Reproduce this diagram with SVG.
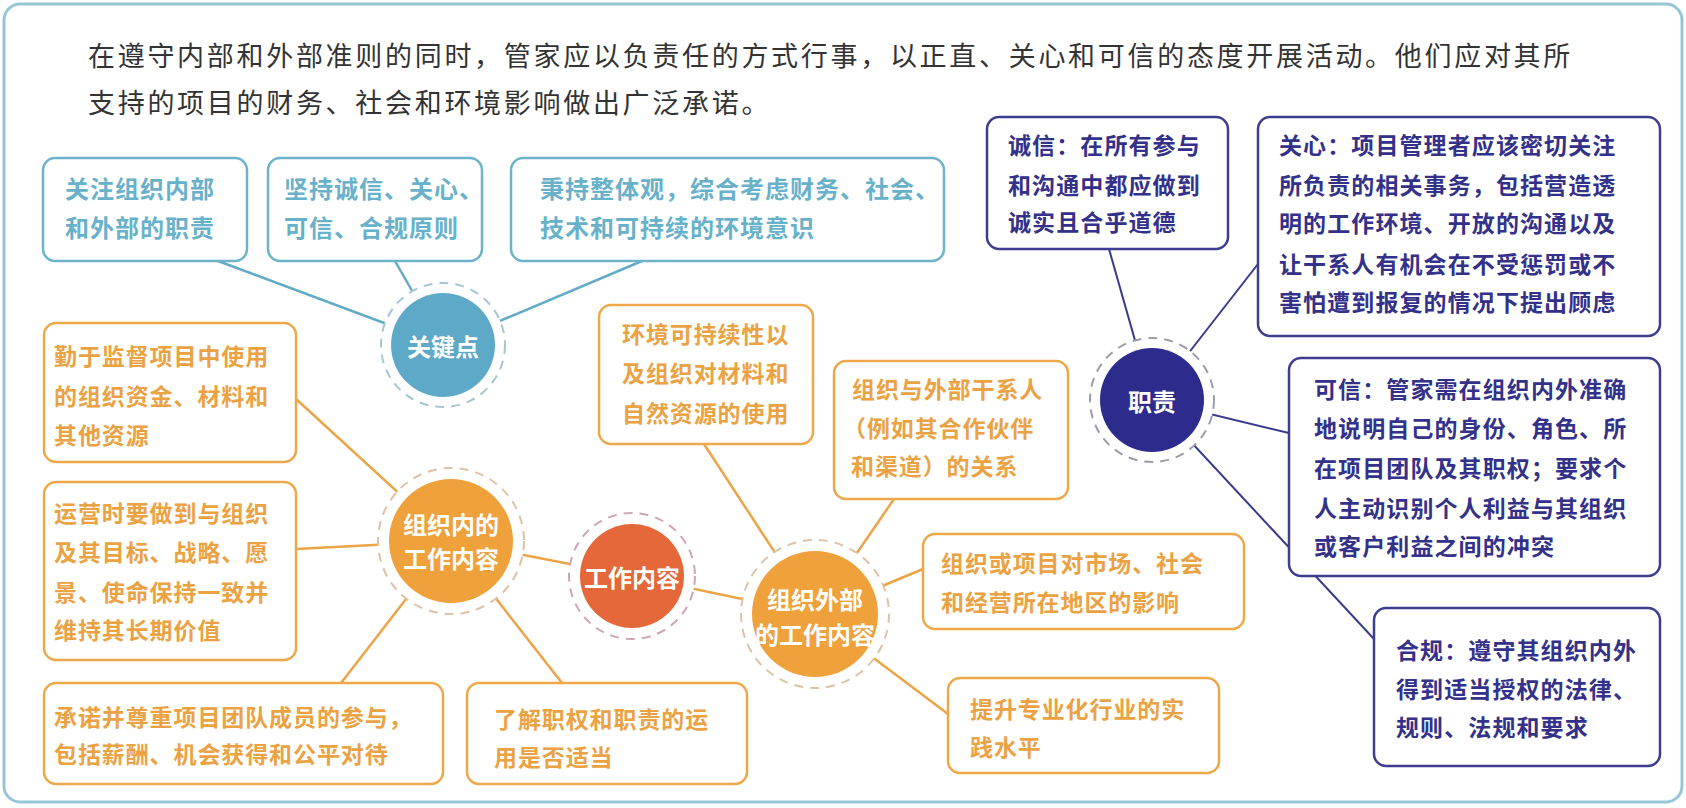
<svg xmlns="http://www.w3.org/2000/svg" width="1686" height="808" viewBox="0 0 1686 808">
<style>
text{font-family:"Noto Sans CJK SC","Noto Sans",sans-serif;dominant-baseline:central}
.title{font-size:27px;font-weight:400;fill:#333;letter-spacing:2.7px}
.bx{fill:#fff;stroke-width:2.5}
.bt{stroke:#6db4cb}.bo{stroke:#eda849}.bn{stroke:#3e3d8f}
.tt{font-size:24px;font-weight:700;fill:#68b1ca;letter-spacing:1px}
.to{font-size:23px;font-weight:700;fill:#eba243;letter-spacing:0.9px}
.tn{font-size:23px;font-weight:700;fill:#33318a;letter-spacing:1.1px}
.nt{font-size:24px;font-weight:700;fill:#fff;text-anchor:middle}
.ring{fill:#fff;stroke-width:2;stroke-dasharray:9 7}
.ct{stroke:#62abc6;stroke-width:2.5}
.co{stroke:#eba446;stroke-width:2.5}
.cn{stroke:#3a3a8c;stroke-width:2}
</style>
<rect x="4" y="4" width="1678" height="798" rx="16" fill="#fff" stroke="#96c6d6" stroke-width="3"/>
<g id="title">
<text class="title" x="88" y="54">在遵守内部和外部准则的同时，管家应以负责任的方式行事，以正直、关心和可信的态度开展活动。他们应对其所</text>
<text class="title" x="88" y="101">支持的项目的财务、社会和环境影响做出广泛承诺。</text>
</g>
<g id="connectors" fill="none">
<line class="ct" x1="218" y1="261" x2="443" y2="345"/>
<line class="ct" x1="395" y1="261" x2="443" y2="345"/>
<line class="ct" x1="642" y1="261" x2="443" y2="345"/>
<line class="co" x1="296" y1="399" x2="451" y2="541"/>
<line class="co" x1="296" y1="549" x2="451" y2="541"/>
<line class="co" x1="341" y1="683" x2="451" y2="541"/>
<line class="co" x1="562" y1="683" x2="451" y2="541"/>
<line class="co" x1="451" y1="541" x2="632" y2="576"/>
<line class="co" x1="632" y1="576" x2="815" y2="614"/>
<line class="co" x1="704" y1="444" x2="815" y2="614"/>
<line class="co" x1="894" y1="499" x2="815" y2="614"/>
<line class="co" x1="923" y1="569" x2="815" y2="614"/>
<line class="co" x1="948" y1="714" x2="815" y2="614"/>
<line class="cn" x1="1109" y1="249" x2="1152" y2="400"/>
<line class="cn" x1="1258" y1="264" x2="1152" y2="400"/>
<line class="cn" x1="1289" y1="433" x2="1152" y2="400"/>
<line class="cn" x1="1374" y1="639" x2="1152" y2="400"/>
</g>
<g id="node-guanjiandian">
<circle class="ring" cx="443" cy="345" r="62" stroke="#a8c6d2" fill="none"/>
<circle cx="443" cy="345" r="52" fill="#5ea9c8"/>
<text class="nt" x="443" y="345">关键点</text>
</g>
<g id="node-neibu">
<circle class="ring" cx="451" cy="541" r="73" stroke="#dcc3a6" fill="none"/>
<circle cx="451" cy="541" r="62" fill="#efa13b"/>
<text class="nt" x="451" y="523">组织内的</text>
<text class="nt" x="451" y="557">工作内容</text>
</g>
<g id="node-gongzuo">
<circle class="ring" cx="632" cy="576" r="63" stroke="#cfa5b8" fill="none"/>
<circle cx="632" cy="576" r="52" fill="#e5683a"/>
<text class="nt" x="632" y="576">工作内容</text>
</g>
<g id="node-waibu">
<circle class="ring" cx="815" cy="614" r="74" stroke="#dcc3a6" fill="none"/>
<circle cx="815" cy="614" r="63" fill="#efa13b"/>
<text class="nt" x="815" y="598">组织外部</text>
<text class="nt" x="815" y="633">的工作内容</text>
</g>
<g id="node-zhize">
<circle class="ring" cx="1152" cy="400" r="62" stroke="#9d9daa" fill="none"/>
<circle cx="1152" cy="400" r="52" fill="#2d2c8c"/>
<text class="nt" x="1152" y="400">职责</text>
</g>
<g id="box-t1">
<rect class="bx bt" x="43" y="158" width="204" height="103" rx="12"/>
<text class="tt" x="65" y="187">关注组织内部</text>
<text class="tt" x="65" y="226">和外部的职责</text>
</g>
<g id="box-t2">
<rect class="bx bt" x="268" y="158" width="214" height="103" rx="12"/>
<text class="tt" x="284" y="187">坚持诚信、关心、</text>
<text class="tt" x="284" y="226">可信、合规原则</text>
</g>
<g id="box-t3">
<rect class="bx bt" x="511" y="158" width="433" height="103" rx="12"/>
<text class="tt" x="540" y="187">秉持整体观，综合考虑财务、社会、</text>
<text class="tt" x="540" y="226">技术和可持续的环境意识</text>
</g>
<g id="box-a">
<rect class="bx bo" x="44" y="323" width="252" height="139" rx="12"/>
<text class="to" x="54" y="355">勤于监督项目中使用</text>
<text class="to" x="54" y="395">的组织资金、材料和</text>
<text class="to" x="54" y="434">其他资源</text>
</g>
<g id="box-b">
<rect class="bx bo" x="44" y="482" width="252" height="178" rx="12"/>
<text class="to" x="54" y="512">运营时要做到与组织</text>
<text class="to" x="54" y="551">及其目标、战略、愿</text>
<text class="to" x="54" y="591">景、使命保持一致并</text>
<text class="to" x="54" y="629">维持其长期价值</text>
</g>
<g id="box-c">
<rect class="bx bo" x="44" y="683" width="399" height="101" rx="12"/>
<text class="to" x="54" y="716">承诺并尊重项目团队成员的参与，</text>
<text class="to" x="54" y="753">包括薪酬、机会获得和公平对待</text>
</g>
<g id="box-d">
<rect class="bx bo" x="467" y="683" width="280" height="101" rx="12"/>
<text class="to" x="494" y="718">了解职权和职责的运</text>
<text class="to" x="494" y="756">用是否适当</text>
</g>
<g id="box-e">
<rect class="bx bo" x="599" y="305" width="214" height="139" rx="12"/>
<text class="to" x="622" y="333">环境可持续性以</text>
<text class="to" x="622" y="372">及组织对材料和</text>
<text class="to" x="622" y="412">自然资源的使用</text>
</g>
<g id="box-f">
<rect class="bx bo" x="834" y="361" width="234" height="138" rx="12"/>
<text class="to" x="852" y="388">组织与外部干系人</text>
<text class="to" x="843" y="427">（例如其合作伙伴</text>
<text class="to" x="851" y="465">和渠道）的关系</text>
</g>
<g id="box-g">
<rect class="bx bo" x="923" y="534" width="321" height="95" rx="12"/>
<text class="to" x="941" y="562">组织或项目对市场、社会</text>
<text class="to" x="941" y="601">和经营所在地区的影响</text>
</g>
<g id="box-h">
<rect class="bx bo" x="948" y="678" width="271" height="95" rx="12"/>
<text class="to" x="970" y="708">提升专业化行业的实</text>
<text class="to" x="970" y="746">践水平</text>
</g>
<g id="box-i">
<rect class="bx bn" x="987" y="117" width="241" height="132" rx="12"/>
<text class="tn" x="1008" y="144">诚信：在所有参与</text>
<text class="tn" x="1008" y="184">和沟通中都应做到</text>
<text class="tn" x="1008" y="221">诚实且合乎道德</text>
</g>
<g id="box-j">
<rect class="bx bn" x="1258" y="117" width="402" height="219" rx="12"/>
<text class="tn" x="1279" y="144">关心：项目管理者应该密切关注</text>
<text class="tn" x="1279" y="184">所负责的相关事务，包括营造透</text>
<text class="tn" x="1279" y="222">明的工作环境、开放的沟通以及</text>
<text class="tn" x="1279" y="263">让干系人有机会在不受惩罚或不</text>
<text class="tn" x="1279" y="301">害怕遭到报复的情况下提出顾虑</text>
</g>
<g id="box-k">
<rect class="bx bn" x="1289" y="358" width="371" height="218" rx="12"/>
<text class="tn" x="1314" y="388">可信：管家需在组织内外准确</text>
<text class="tn" x="1314" y="427">地说明自己的身份、角色、所</text>
<text class="tn" x="1314" y="467">在项目团队及其职权；要求个</text>
<text class="tn" x="1314" y="507">人主动识别个人利益与其组织</text>
<text class="tn" x="1314" y="545">或客户利益之间的冲突</text>
</g>
<g id="box-l">
<rect class="bx bn" x="1374" y="608" width="286" height="158" rx="12"/>
<text class="tn" x="1396" y="649">合规：遵守其组织内外</text>
<text class="tn" x="1396" y="688">得到适当授权的法律、</text>
<text class="tn" x="1396" y="726">规则、法规和要求</text>
</g>
</svg>
